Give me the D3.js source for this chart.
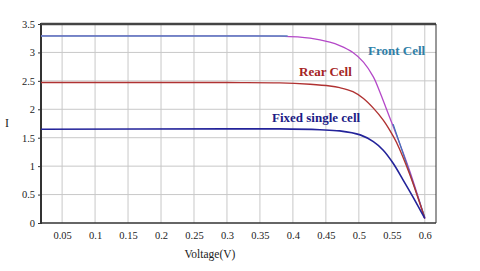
<!DOCTYPE html>
<html><head><meta charset="utf-8">
<script src="https://cdn.jsdelivr.net/npm/d3@7"></script>
<style>body{margin:0;background:#fff}svg{display:block}</style>
</head><body>
<svg id="c" width="480" height="271"></svg>
<script>
const xTicks = [0.05,0.1,0.15,0.2,0.25,0.3,0.35,0.4,0.45,0.5,0.55,0.6];
const yTicks = [0,0.5,1,1.5,2,2.5,3,3.5];
const voltFront = [0.018,0.3,0.38,0.426,0.456,0.471,0.491,0.507,0.522,0.532,0.542,0.552,0.577,0.6];
const front     = [3.29,3.29,3.285,3.25,3.18,3.12,3.00,2.83,2.57,2.30,2.00,1.70,0.92,0.08];
const voltModel = [0.018,0.392];
const frontModel= [3.29,3.29];
const voltModelEnd = [0.552,0.6];
const frontModelEnd= [1.74,0.1];
const voltRear  = [0.018,0.3,0.38,0.426,0.456,0.471,0.491,0.507,0.522,0.537,0.547,0.557,0.577,0.6];
const rear      = [2.47,2.47,2.465,2.44,2.41,2.38,2.31,2.19,2.02,1.81,1.63,1.42,0.86,0.08];
const voltFixed = [0.018,0.3,0.38,0.441,0.471,0.502,0.522,0.537,0.552,0.567,0.582,0.6];
const fixed     = [1.65,1.655,1.655,1.64,1.62,1.55,1.43,1.28,1.05,0.76,0.46,0.08];

const svg = d3.select("#c");
const L=41,R=436,T=24,B=223;
const x = d3.scaleLinear().domain([0.018,0.617]).range([L,R]);
const y = d3.scaleLinear().domain([0,3.5]).range([B,T]);

// grid
svg.append("g").selectAll("line").data(xTicks).join("line")
  .attr("x1",d=>x(d)).attr("x2",d=>x(d)).attr("y1",T).attr("y2",B)
  .attr("stroke","#c8c8c8").attr("stroke-width",1);
svg.append("g").selectAll("line").data(yTicks.filter(d=>d>0&&d<3.5)).join("line")
  .attr("x1",L).attr("x2",R).attr("y1",d=>y(d)).attr("y2",d=>y(d))
  .attr("stroke","#c8c8c8").attr("stroke-width",1);

// axes
const xa = svg.append("g").attr("transform",`translate(0,${B})`)
  .call(d3.axisBottom(x).tickValues(xTicks).tickSize(0).tickPadding(9).tickFormat(d3.format("")));
const ya = svg.append("g").attr("transform",`translate(${L},0)`)
  .call(d3.axisLeft(y).tickValues(yTicks).tickSize(3).tickPadding(3).tickFormat(d3.format("")));
[xa,ya].forEach(a=>{
  a.selectAll("text").attr("font-family","Liberation Serif").attr("font-size",10.5).attr("fill","#222");
  a.select(".domain").remove();
  a.selectAll(".tick line").attr("stroke","#333");
});
// frame
svg.append("line").attr("x1",L).attr("x2",L).attr("y1",T-1).attr("y2",B+1).attr("stroke","#333").attr("stroke-width",2);
svg.append("line").attr("x1",L).attr("x2",R).attr("y1",T).attr("y2",T).attr("stroke","#444").attr("stroke-width",2.5);
svg.append("line").attr("x1",L).attr("x2",R).attr("y1",B).attr("y2",B).attr("stroke","#333").attr("stroke-width",1.5);
svg.append("line").attr("x1",R).attr("x2",R).attr("y1",T).attr("y2",B).attr("stroke","#333").attr("stroke-width",1);

const line = d3.line().curve(d3.curveCatmullRom.alpha(0.5)).x(d=>x(d[0])).y(d=>y(d[1]));
function draw(xs,ys,color,w){
  svg.append("path").datum(xs.map((v,i)=>[v,ys[i]])).attr("d",line)
    .attr("fill","none").attr("stroke",color).attr("stroke-width",w);
}
draw(voltFront,front,"#b448c8",1.3);
draw(voltModel,frontModel,"#5a84c0",1.5);
draw(voltModelEnd,frontModelEnd,"#3a78b8",1.2);
draw(voltRear,rear,"#b03232",1.4);
draw(voltFixed,fixed,"#23239a",1.6);

// labels
const lab=(t,xx,yy,c)=>svg.append("text").text(t).attr("x",xx).attr("y",yy)
  .attr("font-family","Liberation Serif").attr("font-weight","bold").attr("font-size",13).attr("fill",c);
lab("Front Cell",368,55,"#2f7fa8");
lab("Rear Cell",299,76,"#a52424");
lab("Fixed single cell",272,122,"#1c1c86");

svg.append("text").text("I").attr("x",5).attr("y",127)
  .attr("font-family","Liberation Serif").attr("font-size",12).attr("fill","#222");
svg.append("text").text("Voltage(V)").attr("x",210).attr("y",258).attr("text-anchor","middle")
  .attr("font-family","Liberation Serif").attr("font-size",11.5).attr("fill","#222");
</script>
</body></html>
